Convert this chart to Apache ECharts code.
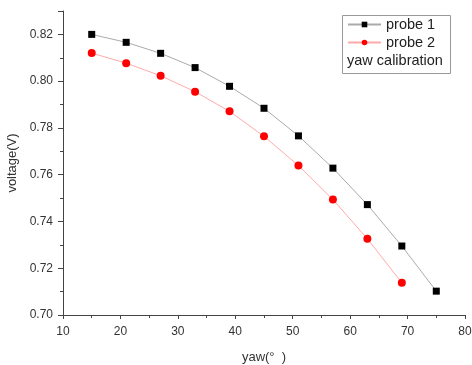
<!DOCTYPE html>
<html>
<head>
<meta charset="utf-8">
<script src="https://cdn.jsdelivr.net/npm/echarts@6/dist/echarts.min.js"></script>
<style>
html, body { margin: 0; padding: 0; background: #fff; }
#chart { width: 472px; height: 365px; }
</style>
</head>
<body>
<div id="chart"></div>
<script>
const yaw = [15, 21, 27, 33, 39, 45, 51, 57, 63, 69, 75];
const probe1 = [0.820, 0.8166, 0.8119, 0.8058, 0.7978, 0.7884, 0.7766, 0.7628, 0.7472, 0.7295, 0.7102];
const probe2 = [0.812, 0.8077, 0.8023, 0.7955, 0.7871, 0.7764, 0.7639, 0.7494, 0.7326, 0.7138];

const font = 'Liberation Sans, Arial, sans-serif';
const textColor = '#333';

const chart = echarts.init(document.getElementById('chart'));
chart.setOption({
    animation: false,
    textStyle: { fontFamily: font },
    grid: { left: 63, right: 7, top: 11, bottom: 50, outerBoundsMode: 'none' },
    legend: {
        orient: 'vertical',
        left: 347,
        top: 17,
        padding: 0,
        itemWidth: 33,
        itemHeight: 7,
        itemGap: 3,
        textStyle: { fontSize: 14.5, color: '#222', fontFamily: font },
        data: ['probe 1', 'probe 2']
    },
    graphic: [
        {
            type: 'rect',
            left: 340,
            top: 13,
            shape: { width: 108, height: 58 },
            style: { fill: 'none', stroke: '#999', lineWidth: 1 }
        },
        {
            type: 'text',
            left: 347,
            top: 53,
            style: { text: 'yaw calibration', fontSize: 14.5, fill: '#222', fontFamily: font }
        }
    ],
    xAxis: {
        type: 'value',
        min: 10,
        max: 80,
        interval: 10,
        name: 'yaw(°  )',
        nameLocation: 'middle',
        nameGap: 36,
        nameTextStyle: { fontSize: 13, color: textColor },
        axisLine: { lineStyle: { color: '#444', width: 1 } },
        axisTick: { length: 4, lineStyle: { color: '#444' } },
        minorTick: { show: true, splitNumber: 2, length: 3, lineStyle: { color: '#444' } },
        axisLabel: { fontSize: 12, color: textColor, margin: 11 },
        splitLine: { show: false }
    },
    yAxis: {
        type: 'value',
        min: 0.70,
        max: 0.83,
        interval: 0.02,
        name: 'voltage(V)',
        nameLocation: 'middle',
        nameGap: 39,
        nameTextStyle: { fontSize: 13, color: textColor },
        axisLine: { show: true, lineStyle: { color: '#444', width: 1 } },
        axisTick: { length: 5, lineStyle: { color: '#444' } },
        minorTick: { show: true, splitNumber: 2, length: 3, lineStyle: { color: '#444' } },
        axisLabel: {
            fontSize: 12,
            color: textColor,
            margin: 10,
            showMaxLabel: false,
            formatter: (v) => v.toFixed(2)
        },
        splitLine: { show: false }
    },
    series: [
        {
            name: 'probe 1',
            type: 'line',
            data: yaw.map((x, i) => [x, probe1[i]]),
            symbol: 'rect',
            symbolSize: 7,
            itemStyle: { color: '#000' },
            lineStyle: { color: '#aaa', width: 1 }
        },
        {
            name: 'probe 2',
            type: 'line',
            data: probe2.map((y, i) => [yaw[i], y]),
            symbol: 'circle',
            symbolSize: 8,
            itemStyle: { color: '#f00' },
            lineStyle: { color: '#ffaaaa', width: 1 }
        }
    ]
});
</script>
</body>
</html>
